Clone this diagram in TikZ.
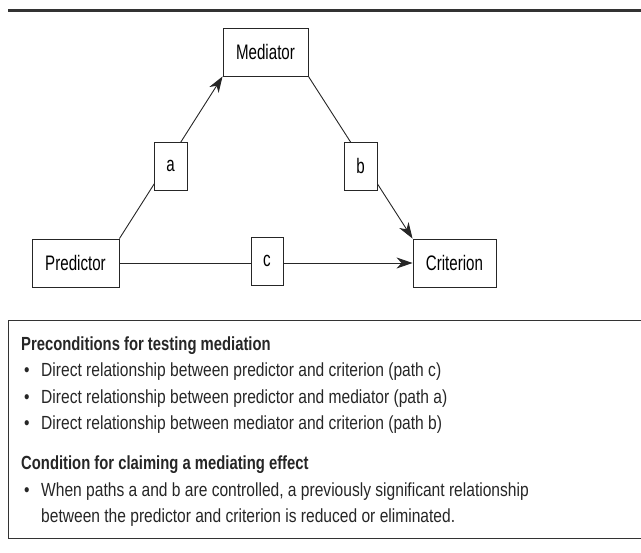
\documentclass[tikz,border=0pt]{standalone}
\usepackage{fontspec}
\setmainfont[FakeStretch=0.72]{Liberation Sans}
\newfontfamily\bodyfont[FakeStretch=0.82]{Liberation Sans}
\newfontfamily\headfont[FakeStretch=0.78]{Liberation Sans}
\usetikzlibrary{arrows.meta}
\begin{document}
\begin{tikzpicture}[x=1pt,y=-1pt,
  box/.style={draw=black!85,line width=0.9pt,fill=white,inner sep=0pt,minimum height=48pt,font=\fontsize{21}{24}\selectfont},
  conn/.style={draw=black!85,line width=0.9pt},
  arr/.style={conn,-{Stealth[length=16pt,width=11pt,inset=5pt]}},
  body/.style={anchor=base west,inner sep=0pt,font=\bodyfont\fontsize{19}{22}\selectfont,text=black!85},
  head/.style={body,font=\headfont\fontsize{19}{22}\selectfont\bfseries}]
\useasboundingbox (0,0) rectangle (641,553);
\draw[line width=3pt,black!80] (8,11) -- (645,11);
\node[box,minimum width=85pt] (med) at (265.5,52) {Mediator};
\node[box,minimum width=87pt] (pred) at (75.5,263) {Predictor};
\node[box,minimum width=83pt] (crit) at (454.5,263) {Criterion};
\draw[arr] (pred.north east) -- (med.south west);
\draw[arr] (med.south east) -- (crit.north west);
\draw[arr] (pred.east) -- (crit.west);
\node[box,minimum width=33pt] (a) at (170.5,166) {a};
\node[box,minimum width=33pt] (b) at (360.5,166) {b};
\node[box,minimum width=32pt] (c) at (267,261) {c};
\draw[line width=0.9pt,black!80] (8,320) rectangle (650,538);
\node[head] (h1) at (21,350.5) {Preconditions for testing mediation};
\node[body] (b1d) at (24,377) {\textbullet};
\node[body] (b1) at (41,377) {Direct relationship between predictor and criterion (path c)};
\node[body] (b2d) at (24,403.5) {\textbullet};
\node[body] (b2) at (41,403.5) {Direct relationship between predictor and mediator (path a)};
\node[body] (b3d) at (24,430) {\textbullet};
\node[body] (b3) at (41,430) {Direct relationship between mediator and criterion (path b)};
\node[head] (h2) at (21,470) {Condition for claiming a mediating effect};
\node[body] (b4d) at (24,497) {\textbullet};
\node[body] (b4) at (41,497) {When paths a and b are controlled, a previously significant relationship};
\node[body] (b5) at (41,523) {between the predictor and criterion is reduced or eliminated.};
\end{tikzpicture}
\end{document}
